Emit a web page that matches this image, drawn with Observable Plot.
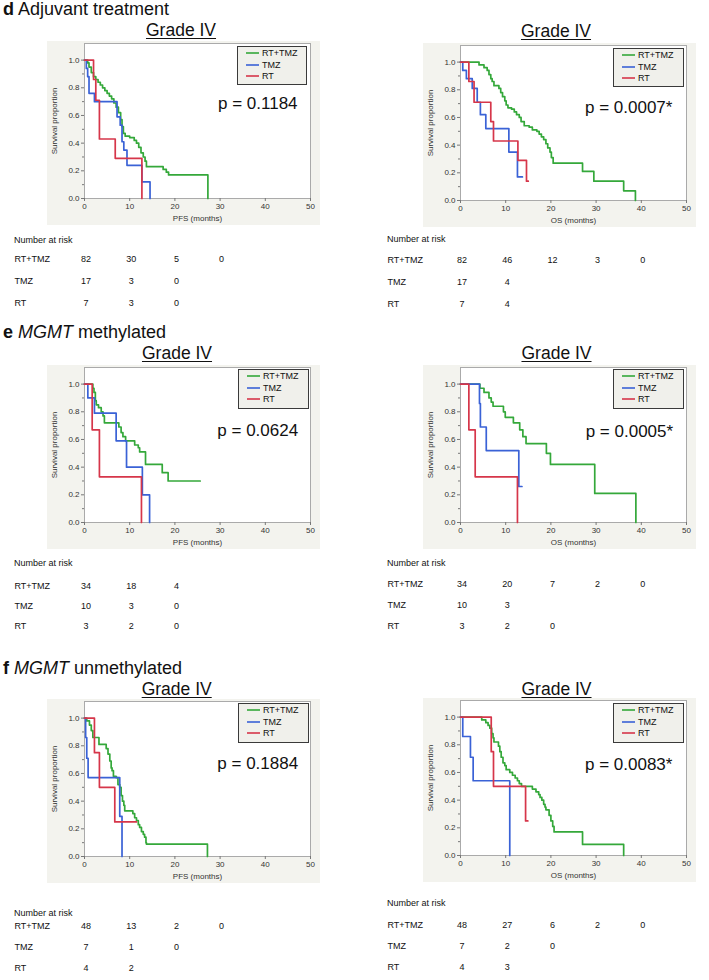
<!DOCTYPE html>
<html>
<head>
<meta charset="utf-8">
<script src="https://cdn.jsdelivr.net/npm/d3@7"></script>
<script src="https://cdn.jsdelivr.net/npm/@observablehq/plot@0.6"></script>
<style>
  body { margin: 0; background: #fff; font-family: "Liberation Sans", Arial, Helvetica, sans-serif; }
  #root { position: relative; width: 709px; height: 980px; overflow: hidden; background: #fff; }
  .abs { position: absolute; white-space: nowrap; color: #111; }
</style>
</head>
<body>
<div id="root"></div>
<script>
// ---------- shared categories / ticks ----------
const GROUPS = ["RT+TMZ", "TMZ", "RT"];
const COLORS = ["#34a83a", "#3a62d6", "#d6364a"];
const X_TICKS = [0, 10, 20, 30, 40, 50];
const Y_TICKS = [0, 0.2, 0.4, 0.6, 0.8, 1.0];
const Y_MINOR = [0.1, 0.3, 0.5, 0.7, 0.9];
const RISK_TIMES = [0, 10, 20, 30, 40];

// ---------- d: Adjuvant treatment, PFS ----------
const dPFS_RTTMZ = [[0,1],[0.7,0.98],[1.0,0.95],[1.5,0.91],[2.0,0.88],[2.5,0.86],[3.0,0.84],[3.5,0.82],[4.0,0.80],[4.5,0.78],[5.0,0.76],[5.5,0.74],[6.0,0.72],[6.5,0.69],[7.0,0.66],[7.5,0.62],[8.0,0.57],[8.3,0.52],[8.6,0.47],[9.0,0.45],[10.0,0.44],[11.0,0.42],[11.5,0.40],[12.0,0.37],[12.5,0.33],[13.0,0.30],[13.4,0.27],[13.7,0.23],[17.4,0.21],[18.1,0.19],[18.6,0.17],[27.3,0]];
const dPFS_TMZ = [[0,1],[0.4,0.94],[0.7,0.88],[1.0,0.76],[2.2,0.70],[7.2,0.59],[7.9,0.53],[8.3,0.41],[8.7,0.35],[9.4,0.24],[12.7,0.12],[14.5,0]];
const dPFS_RT = [[0,1],[2.0,0.86],[2.5,0.71],[3.3,0.43],[6.8,0.29],[12.7,0]];
const dPFS_riskRTTMZ = [82, 30, 5, 0];
const dPFS_riskTMZ = [17, 3, 0];
const dPFS_riskRT = [7, 3, 0];

// ---------- d: Adjuvant treatment, OS ----------
const dOS_RTTMZ = [[0,1],[4.1,0.98],[5.2,0.96],[5.9,0.94],[6.3,0.91],[6.7,0.88],[7.0,0.86],[7.4,0.83],[8.5,0.81],[8.9,0.78],[9.3,0.75],[9.8,0.72],[10.1,0.69],[10.5,0.67],[11.3,0.66],[11.9,0.64],[12.4,0.62],[13.0,0.60],[13.4,0.57],[14.1,0.54],[15.2,0.53],[15.9,0.51],[16.9,0.50],[17.4,0.48],[17.9,0.46],[18.4,0.44],[18.9,0.41],[19.3,0.38],[19.8,0.35],[20.1,0.31],[20.5,0.27],[27.0,0.21],[29.5,0.14],[36.1,0.07],[38.7,0]];
const dOS_TMZ = [[0,1],[0.5,0.94],[1.3,0.88],[2.6,0.81],[3.7,0.71],[4.4,0.62],[5.6,0.52],[10.7,0.35],[12.6,0.17],[13.7,0.17]];
const dOS_RT = [[0,1],[1.85,0.86],[3.0,0.71],[6.7,0.57],[7.3,0.43],[12.7,0.29],[14.6,0.14],[15.0,0.14]];
const dOS_riskRTTMZ = [82, 46, 12, 3, 0];
const dOS_riskTMZ = [17, 4];
const dOS_riskRT = [7, 4];

// ---------- e: MGMT methylated, PFS ----------
const ePFS_RTTMZ = [[0,1],[1.85,0.97],[2.1,0.94],[2.4,0.88],[2.6,0.85],[3.1,0.83],[3.7,0.80],[4.1,0.77],[4.4,0.72],[7.6,0.69],[8.1,0.65],[8.5,0.62],[9.1,0.59],[11.1,0.56],[11.9,0.54],[12.2,0.51],[13.5,0.42],[17.2,0.36],[18.5,0.30],[25.6,0.30]];
const ePFS_TMZ = [[0,1],[0.74,0.90],[2.2,0.79],[7.0,0.59],[9.3,0.40],[12.8,0.20],[14.4,0]];
const ePFS_RT = [[0,1],[1.7,0.67],[3.3,0.33],[12.6,0]];
const ePFS_riskRTTMZ = [34, 18, 4];
const ePFS_riskTMZ = [10, 3, 0];
const ePFS_riskRT = [3, 2, 0];

// ---------- e: MGMT methylated, OS ----------
const eOS_RTTMZ = [[0,1],[4.3,0.97],[5.2,0.94],[6.3,0.90],[6.8,0.87],[7.2,0.84],[9.5,0.80],[9.9,0.76],[11.7,0.72],[13.1,0.67],[13.8,0.62],[14.5,0.57],[19.0,0.50],[19.9,0.42],[29.7,0.21],[38.8,0]];
const eOS_TMZ = [[0,1],[4.2,0.86],[4.4,0.69],[5.7,0.52],[12.9,0.26],[13.6,0.26]];
const eOS_RT = [[0,1],[1.85,0.67],[3.25,0.33],[12.6,0]];
const eOS_riskRTTMZ = [34, 20, 7, 2, 0];
const eOS_riskTMZ = [10, 3];
const eOS_riskRT = [3, 2, 0];

// ---------- f: MGMT unmethylated, PFS ----------
const fPFS_RTTMZ = [[0,1],[0.5,0.98],[1.1,0.95],[1.5,0.91],[1.85,0.86],[3.2,0.81],[4.8,0.78],[5.2,0.74],[5.6,0.69],[5.9,0.64],[6.1,0.62],[6.4,0.58],[7.0,0.57],[7.4,0.52],[7.8,0.50],[8.1,0.44],[8.4,0.40],[8.7,0.37],[8.9,0.33],[10.7,0.31],[11.1,0.28],[11.5,0.26],[11.9,0.23],[12.2,0.21],[12.6,0.18],[13.0,0.16],[13.3,0.14],[13.6,0.10],[13.7,0.09],[27.2,0]];
const fPFS_TMZ = [[0,1],[0.25,0.86],[0.5,0.71],[0.8,0.57],[7.8,0.29],[8.3,0]];
const fPFS_RT = [[0,1],[2.2,0.75],[3.3,0.50],[6.7,0.25],[11.5,0.25]];
const fPFS_riskRTTMZ = [48, 13, 2, 0];
const fPFS_riskTMZ = [7, 1, 0];
const fPFS_riskRT = [4, 2];

// ---------- f: MGMT unmethylated, OS ----------
const fOS_RTTMZ = [[0,1],[4.7,0.98],[5.6,0.96],[6.1,0.94],[6.5,0.92],[6.9,0.88],[7.2,0.85],[7.4,0.82],[8.4,0.79],[8.7,0.75],[9.0,0.71],[9.4,0.67],[9.8,0.65],[10.1,0.62],[10.9,0.60],[11.5,0.58],[12.1,0.56],[12.6,0.54],[13.0,0.52],[13.5,0.50],[15.9,0.48],[16.7,0.46],[17.3,0.44],[17.6,0.42],[18.0,0.40],[18.4,0.37],[18.7,0.35],[18.9,0.33],[19.6,0.29],[20.0,0.25],[20.4,0.21],[20.7,0.17],[27.0,0.08],[36.1,0]];
const fOS_TMZ = [[0,1],[0.5,0.86],[2.2,0.71],[2.8,0.54],[10.9,0]];
const fOS_RT = [[0,1],[6.8,0.75],[7.3,0.50],[14.4,0.25],[14.9,0.25]];
const fOS_riskRTTMZ = [48, 27, 6, 2, 0];
const fOS_riskTMZ = [7, 2, 0];
const fOS_riskRT = [4, 3];

// ---------- texts ----------
const HEADERS = [
  {html: "<b>d</b> Adjuvant treatment", x: 3, baseline: 16},
  {html: "<b>e</b> <i>MGMT</i> methylated", x: 3, baseline: 338.3},
  {html: "<b>f</b> <i>MGMT</i> unmethylated", x: 3, baseline: 674.3}
];
const PANEL_TITLE = "Grade IV";
const RISK_TITLE = "Number at risk";

// ---------- layout (positions only) ----------
const FONT = '"Liberation Sans", Arial, Helvetica, sans-serif';
const BG = "#f3f3ee";
const PW = 273, PH = 184, ML = 37, MR = 10, MT = 2, MB = 27;

const panels = [
  {curves: [dPFS_RTTMZ, dPFS_TMZ, dPFS_RT], risk: [dPFS_riskRTTMZ, dPFS_riskTMZ, dPFS_riskRT], p: "p = 0.1184", xlabel: "PFS (months)",
   left: 47, top: 41, titleCx: 181, titleBase: 36, pX: 218, pBase: 110, leg: [237, 46, 71, 40],
   riskTitleY: 240, riskRows: [259, 303.5], labelX: 14, riskLeft: 0},
  {curves: [dOS_RTTMZ, dOS_TMZ, dOS_RT], risk: [dOS_riskRTTMZ, dOS_riskTMZ, dOS_riskRT], p: "p = 0.0007*", xlabel: "OS (months)",
   left: 423, top: 43, titleCx: 556, titleBase: 36.8, pX: 585, pBase: 113.3, leg: [613, 48, 72, 40],
   riskTitleY: 239, riskRows: [259, 304], labelX: 387, riskLeft: 355},
  {curves: [ePFS_RTTMZ, ePFS_TMZ, ePFS_RT], risk: [ePFS_riskRTTMZ, ePFS_riskTMZ, ePFS_riskRT], p: "p = 0.0624", xlabel: "PFS (months)",
   left: 47, top: 365, titleCx: 177, titleBase: 359, pX: 217.3, pBase: 436.5, leg: [238, 369, 72, 41],
   riskTitleY: 563.3, riskRows: [585, 626.7], labelX: 14, riskLeft: 0},
  {curves: [eOS_RTTMZ, eOS_TMZ, eOS_RT], risk: [eOS_riskRTTMZ, eOS_riskTMZ, eOS_riskRT], p: "p = 0.0005*", xlabel: "OS (months)",
   left: 423, top: 365, titleCx: 556.5, titleBase: 359, pX: 585.7, pBase: 437.3, leg: [613, 369, 72, 41],
   riskTitleY: 562.7, riskRows: [584.3, 626.7], labelX: 387, riskLeft: 355},
  {curves: [fPFS_RTTMZ, fPFS_TMZ, fPFS_RT], risk: [fPFS_riskRTTMZ, fPFS_riskTMZ, fPFS_riskRT], p: "p = 0.1884", xlabel: "PFS (months)",
   left: 47, top: 699, titleCx: 176.7, titleBase: 695, pX: 217.3, pBase: 770, leg: [238, 703, 72, 41],
   riskTitleY: 913.3, riskRows: [925.7, 968.3], labelX: 14, riskLeft: 0},
  {curves: [fOS_RTTMZ, fOS_TMZ, fOS_RT], risk: [fOS_riskRTTMZ, fOS_riskTMZ, fOS_riskRT], p: "p = 0.0083*", xlabel: "OS (months)",
   left: 423, top: 698, titleCx: 556.5, titleBase: 695, pX: 585, pBase: 771, leg: [613, 703, 72, 41],
   riskTitleY: 903.3, riskRows: [924.3, 967.3], labelX: 387, riskLeft: 355}
];

const root = document.getElementById("root");

function put(html, x, baseline, fs, extra = {}) {
  const d = document.createElement("div");
  d.className = "abs";
  d.innerHTML = html;
  Object.assign(d.style, {
    left: x + "px", top: (baseline - 0.92 * fs) + "px",
    fontSize: fs + "px", lineHeight: "1.149"
  }, extra);
  root.appendChild(d);
  return d;
}

function place(el, x, y) {
  el.style.position = "absolute";
  el.style.left = x + "px";
  el.style.top = y + "px";
  root.appendChild(el);
}

function survivalChart(p) {
  const rows = [];
  p.curves.forEach((arr, i) => arr.forEach(([t, s]) => rows.push({group: GROUPS[i], t, s})));
  const svg = Plot.plot({
    width: PW, height: PH,
    marginLeft: ML, marginRight: MR, marginTop: MT, marginBottom: MB,
    style: {background: BG, fontFamily: FONT, fontSize: "8px", color: "#333", overflow: "visible"},
    x: {domain: [0, 50]},
    y: {domain: [0, 1.12]},
    color: {domain: GROUPS, range: COLORS},
    marks: [
      Plot.frame({fill: "white", stroke: "#aaaaaa"}),
      Plot.axisY(Y_MINOR, {tickSize: 2, tickFormat: () => "", label: null, stroke: "#777"}),
      Plot.axisY(Y_TICKS, {tickSize: 3, tickPadding: 2, tickFormat: d3.format(".1f"),
        label: "Survival proportion", labelAnchor: "center", labelArrow: "none", labelOffset: 33, stroke: "#777"}),
      Plot.axisX(X_TICKS, {tickSize: 3, tickPadding: 2,
        label: p.xlabel, labelAnchor: "center", labelArrow: "none", labelOffset: 22, stroke: "#777"}),
      Plot.line(rows, {x: "t", y: "s", z: "group", stroke: "group", curve: "step-after", strokeWidth: 1.7})
    ]
  });
  place(svg, p.left, p.top);
}

function riskChart(p) {
  const rows = [];
  p.risk.forEach((arr, i) => arr.forEach((n, j) => rows.push({group: GROUPS[i], t: RISK_TIMES[j], n})));
  const frameLeft = p.left + ML;
  const ml = frameLeft - p.riskLeft;
  const [r1, r3] = p.riskRows;
  const svg = Plot.plot({
    width: ml + (PW - ML - MR) + MR, height: (r3 - r1) + 20,
    marginLeft: ml, marginRight: MR, marginTop: 10, marginBottom: 10,
    style: {fontFamily: FONT, fontSize: "9px", color: "#111", overflow: "visible", background: "transparent"},
    x: {domain: [0, 50], axis: null},
    y: {type: "point", domain: GROUPS, axis: null, padding: 0},
    marks: [
      Plot.text(rows, {x: "t", y: "group", text: d => String(d.n), dx: 1.5, fill: "#111"}),
      Plot.text(GROUPS, {y: d => d, text: d => d, frameAnchor: "left", textAnchor: "start", dx: p.labelX - frameLeft, fill: "#111"})
    ]
  });
  place(svg, p.riskLeft, r1 - 10);
  put(RISK_TITLE, p.labelX, p.riskTitleY + 3.2, 9);
}

function legendBox(p) {
  const [x, y, w, h] = p.leg;
  const box = document.createElement("div");
  Object.assign(box.style, {
    position: "absolute", left: x + "px", top: y + "px", width: (w - 3) + "px", height: (h - 3) + "px",
    border: "1.5px solid #3a3a3a", background: "#f0f0eb", boxSizing: "content-box"
  });
  GROUPS.forEach((g, i) => {
    const cy = 6 + i * 11.5;
    const row = document.createElement("div");
    Object.assign(row.style, {position: "absolute", left: "8px", top: (cy - 6) + "px", height: "12px",
      display: "flex", alignItems: "center", fontSize: "9px", fontFamily: FONT, color: "#111", whiteSpace: "nowrap"});
    row.innerHTML = `<svg width="13" height="12" style="margin-right:3px"><line x1="0" x2="13" y1="6" y2="6" stroke="${COLORS[i]}" stroke-width="1.6"/></svg><span>${g}</span>`;
    box.appendChild(row);
  });
  root.appendChild(box);
}

HEADERS.forEach(h => put(h.html, h.x, h.baseline, 18));

panels.forEach(p => {
  survivalChart(p);
  legendBox(p);
  put(p.p, p.pX, p.pBase, 17);
  put(PANEL_TITLE, p.titleCx, p.titleBase, 17.5, {transform: "translateX(-50%)", textDecoration: "underline", textUnderlineOffset: "2px"});
  riskChart(p);
});
</script>
</body>
</html>
